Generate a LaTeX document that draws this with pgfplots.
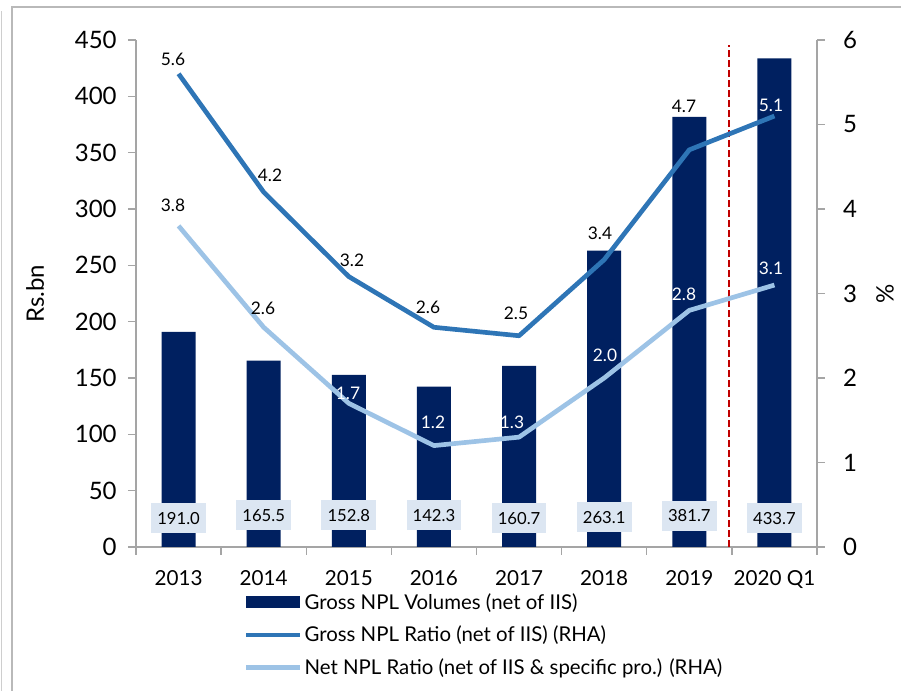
\documentclass[border=0pt]{standalone}
\usepackage{fontspec}
\setmainfont{Lato}
\usepackage{pgfplots}
\pgfplotsset{compat=1.18}
\definecolor{navy}{RGB}{0,32,96}
\definecolor{grossc}{RGB}{46,117,182}
\definecolor{netc}{RGB}{157,195,230}
\definecolor{boxc}{RGB}{220,230,242}
\definecolor{axg}{RGB}{165,165,165}
\definecolor{frameg}{RGB}{185,185,185}
\definecolor{redd}{RGB}{192,0,0}
\pgfplotsset{
  common/.style={
    at={(102pt,108pt)}, anchor=south west, scale only axis,
    width=510.75pt, height=380.25pt,
    xmin=-0.5, xmax=7.5,
    tick align=outside, major tick length=6pt,
    tick style={axg, line width=1pt},
    axis line style={axg, line width=1pt},
    /pgf/number format/assume math mode=true,
    clip=false,
  },
  lbl/.style={draw=none, mark=none, point meta=explicit symbolic, nodes near coords,
    every node near coord/.append style={anchor=center, inner sep=0pt, text=#1, font=\fontsize{13}{13}\selectfont}},
}
\begin{document}
\begin{tikzpicture}
\useasboundingbox (0,0) rectangle (675.75pt,518.25pt);
\draw[color=frameg, line width=1.5pt] (9pt,0) -- (9pt,513pt) -- (675.75pt,513pt);
\draw[color=frameg!70, line width=1pt] (1pt,0) -- (1pt,510pt);
\begin{axis}[common,
  ymin=0, ymax=450,
  axis y line*=left, axis x line*=bottom,
  xtick={-0.5,0.5,...,7.5}, x tick label as interval,
  xticklabels={2013,2014,2015,2016,2017,2018,2019,2020 Q1},
  ytick={0,50,...,450},
  yticklabel style={font=\fontsize{18}{18}\selectfont, text=black, xshift=-5pt},
  xticklabel style={font=\fontsize{15.5}{15.5}\selectfont, text=black, yshift=-8pt},
  ylabel={Rs.bn},
  ylabel style={at={(axis description cs:-0.148,0.5)}, anchor=center, font=\fontsize{18}{18}\selectfont},
  legend style={at={(axis description cs:0.158,-0.086)}, anchor=north west, draw=none, fill=none,
     font=\fontsize{15.3}{15.3}\selectfont, row sep=7pt, inner sep=0pt, cells={anchor=west}},
]
\addplot[ybar, bar width=25.5pt, fill=navy, draw=none,
  legend image code/.code={\fill[navy] (0pt,-4.5pt) rectangle (40pt,4.5pt);}]
  coordinates {(0,191.0) (1,165.5) (2,152.8) (3,142.3) (4,160.7) (5,263.1) (6,381.7) (7,433.7)};
\addplot[forget plot, draw=none, mark=none, point meta=explicit symbolic, nodes near coords,
  every node near coord/.append style={anchor=center, fill=boxc, minimum width=41pt, minimum height=22.5pt,
    inner sep=0pt, text=black, font=\fontsize{12.5}{12.5}\selectfont}]
  coordinates {(0,25.7)[191.0] (1,28)[165.5] (2,28)[152.8] (3,28)[142.3] (4,25.7)[160.7] (5,26.5)[263.1] (6,27.5)[381.7] (7,25.7)[433.7]};
\addplot[forget plot, redd, line width=1.5pt, dash pattern=on 5pt off 2.5pt]
  coordinates {(6.465,0) (6.465,446)};
\addlegendimage{legend image code/.code={\draw[grossc, line width=3.5pt] (0pt,0pt) -- (40pt,0pt);}}
\addlegendimage{legend image code/.code={\draw[netc, line width=3.5pt] (0pt,0pt) -- (40pt,0pt);}}
\legend{Gross NPL Volumes (net of IIS),Gross NPL Ratio (net of IIS) (RHA),Net NPL Ratio (net of IIS \& specific pro.) (RHA)}
\end{axis}
\begin{axis}[common,
  ymin=0, ymax=6,
  axis y line*=right, axis x line=none,
  ytick={0,1,...,6},
  yticklabel style={font=\fontsize{18}{18}\selectfont, text=black, xshift=10pt},
  ylabel={\%},
  ylabel style={at={(axis description cs:1.1,0.5)}, anchor=center, font=\fontsize{18}{18}\selectfont},
]
\addplot[grossc, line width=3.5pt, line join=round, mark=none]
  coordinates {(0,5.6) (1,4.2) (2,3.2) (3,2.6) (4,2.5) (5,3.4) (6,4.7) (7,5.1)};
\addplot[netc, line width=3.5pt, line join=round, mark=none]
  coordinates {(0,3.8) (1,2.6) (2,1.7) (3,1.2) (4,1.3) (5,2.0) (6,2.8) (7,3.1)};
% data labels (positions as placed in the reference)
\addplot[lbl=black] coordinates {(-0.065,5.775)[5.6] (1.074,4.402)[4.2] (2.037,3.396)[3.2] (2.930,2.840)[2.6]
  (3.964,2.769)[2.5] (4.951,3.716)[3.4] (5.938,5.219)[4.7] (-0.065,4.047)[3.8] (0.992,2.828)[2.6]};
\addplot[lbl=white] coordinates {(6.960,5.231)[5.1] (1.990,1.822)[1.7] (2.989,1.479)[1.2] (3.917,1.479)[1.3]
  (5.010,2.272)[2.0] (5.938,2.994)[2.8] (6.960,3.302)[3.1]};
\end{axis}
\end{tikzpicture}
\end{document}
